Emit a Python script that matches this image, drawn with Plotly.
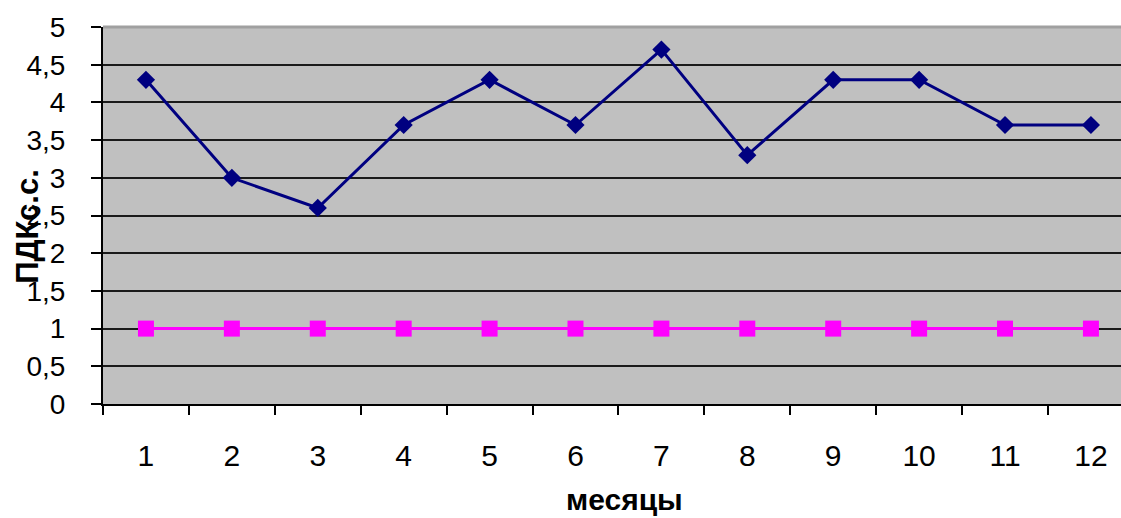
import plotly.graph_objects as go

# Monthly concentrations relative to the daily-average limit
months = [1, 2, 3, 4, 5, 6, 7, 8, 9, 10, 11, 12]
month_labels = ["1", "2", "3", "4", "5", "6", "7", "8", "9", "10", "11", "12"]
concentration = [4.3, 3.0, 2.6, 3.7, 4.3, 3.7, 4.7, 3.3, 4.3, 4.3, 3.7, 3.7]
limit_level = [1, 1, 1, 1, 1, 1, 1, 1, 1, 1, 1, 1]

y_ticks = [0, 0.5, 1, 1.5, 2, 2.5, 3, 3.5, 4, 4.5, 5]
y_tick_labels = ["0", "0,5", "1", "1,5", "2", "2,5", "3", "3,5", "4", "4,5", "5"]
boundaries = [m - 0.5 for m in months] + [months[-1] + 0.5]

FONT = "Liberation Sans, Arial, sans-serif"

fig = go.Figure()
fig.add_trace(go.Scatter(
    x=months, y=limit_level, mode="lines+markers",
    line=dict(color="#FF00FF", width=3),
    marker=dict(symbol="square", size=16, color="#FF00FF"),
    showlegend=False,
))
fig.add_trace(go.Scatter(
    x=months, y=concentration, mode="lines+markers",
    line=dict(color="#000080", width=3),
    marker=dict(symbol="diamond", size=14, color="#000080"),
    showlegend=False,
))

fig.update_layout(
    width=1121, height=518,
    margin=dict(l=103, r=0, t=27, b=114),
    paper_bgcolor="white",
    plot_bgcolor="#C0C0C0",
    font=dict(family=FONT, color="black"),
    xaxis=dict(
        range=[0.5, 12.35],
        tickmode="array", tickvals=months, ticktext=month_labels,
        ticks="", showgrid=False, zeroline=False,
        tickfont=dict(size=30, family=FONT),
        ticklabelstandoff=24,
        showline=True, linecolor="black", linewidth=2,
        minor=dict(tickmode="array", tickvals=boundaries, ticks="outside",
                   ticklen=9, tickwidth=2, tickcolor="black", showgrid=False),
    ),
    yaxis=dict(
        range=[0, 5],
        tickmode="array", tickvals=y_ticks, ticktext=y_tick_labels,
        ticks="outside", ticklen=10, tickwidth=2, tickcolor="black",
        tickfont=dict(size=28, family=FONT),
        ticklabelstandoff=20,
        showgrid=True, gridcolor="#1a1a1a", gridwidth=2,
        zeroline=False,
        showline=True, linecolor="black", linewidth=2,
    ),
    shapes=[dict(type="line", xref="x domain", yref="y domain",
                 x0=0, x1=1, y0=1, y1=1,
                 line=dict(color="#A0A0A0", width=3))],
    annotations=[
        dict(text="<b>месяцы</b>", x=6.5, xref="x", y=0, yref="paper",
             yanchor="middle", yshift=-95, xshift=6, showarrow=False,
             font=dict(size=30, family=FONT)),
        dict(text="<b>ПДКс.с.</b>", x=0, xref="paper", y=2.35, yref="y",
             xanchor="center", yanchor="middle", xshift=-75,
             textangle=-90, showarrow=False,
             font=dict(size=31, family=FONT)),
    ],
)

fig.write_html("out.html")
